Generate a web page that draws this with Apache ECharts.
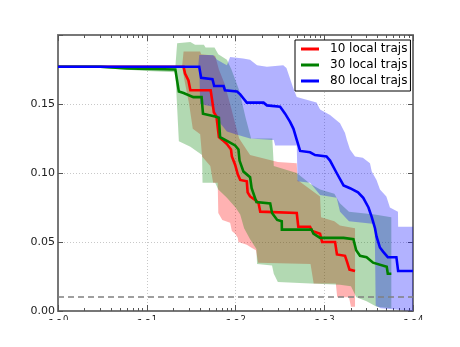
<!DOCTYPE html>
<html><head><meta charset="utf-8">
<script src="https://cdn.jsdelivr.net/npm/echarts@6/dist/echarts.min.js"></script>
<style>html,body{margin:0;padding:0;background:#fff}#c{width:460px;height:347px}</style>
</head><body><div id="c"></div>
<script>
// ---------- data ----------
const seriesNames = ['10 local trajs', '30 local trajs', '80 local trajs'];
const seriesColors = ['#ff0000', '#008000', '#0000ff'];
const bandColors = ['rgba(255,0,0,0.3)', 'rgba(0,128,0,0.3)', 'rgba(0,0,255,0.3)'];

const redMean = [[1,0.177],[26,0.177],[27,0.172],[29.5,0.167],[31,0.160],[52.5,0.160],[54.5,0.153],[57,0.144],[61,0.141],[65,0.126],[71,0.124],[80,0.121],[89,0.117],[91,0.112],[99,0.106],[106,0.099],[113,0.095],[134,0.094],[137,0.086],[146,0.083],[171,0.080],[182,0.078],[190,0.072],[490,0.071],[510,0.061],[692,0.061],[730,0.058],[897,0.056],[945,0.050],[1324,0.050],[1390,0.041],[1714,0.040],[1800,0.036],[1925,0.030],[2222,0.029]];
const greenMean = [[1,0.177],[3,0.177],[6,0.1757],[21,0.175],[23,0.159],[26,0.158],[33.5,0.155],[41.5,0.155],[43,0.143],[59,0.141],[65,0.140],[67,0.126],[87,0.122],[99,0.120],[108,0.117],[111,0.109],[123,0.101],[146,0.097],[152,0.089],[172,0.079],[246,0.078],[258,0.071],[295,0.066],[332,0.065],[333,0.059],[720,0.059],[755,0.056],[897,0.053],[1650,0.053],[2130,0.052],[2290,0.044],[2528,0.040],[3000,0.039],[3550,0.035],[5060,0.032],[5200,0.027],[5700,0.027]];
const blueMean = [[1,0.177],[39,0.177],[41,0.169],[55,0.168],[57.5,0.163],[73.5,0.163],[76,0.160],[104,0.159],[113,0.157],[123,0.154],[134,0.151],[207,0.151],[226,0.149],[318,0.148],[335,0.146],[362,0.143],[412,0.137],[450,0.132],[490,0.124],[535,0.116],[692,0.115],[788,0.113],[1060,0.112],[1162,0.109],[1380,0.100],[1650,0.091],[1951,0.089],[2400,0.086],[2750,0.082],[3150,0.075],[3430,0.068],[3730,0.060],[3880,0.054],[4240,0.046],[4600,0.043],[5200,0.039],[6500,0.039],[6800,0.029],[10000,0.029]];

const redLow = [[1,0.177],[25,0.177],[27,0.165],[30,0.150],[33,0.132],[40,0.128],[42,0.112],[52,0.105],[56,0.093],[63,0.093],[64,0.071],[71,0.066],[87,0.064],[91,0.058],[99,0.056],[106,0.053],[108,0.050],[134,0.048],[150,0.046],[170,0.044],[180,0.035],[700,0.034],[760,0.020],[1350,0.020],[1400,0.010],[1900,0.010],[2000,0.003],[2222,0.003]];
const redHigh = [[1,0.177],[25,0.177],[26,0.188],[40,0.188],[41,0.186],[59,0.185],[65,0.175],[75,0.165],[87,0.150],[100,0.135],[110,0.125],[130,0.118],[146,0.113],[300,0.108],[490,0.107],[500,0.095],[700,0.088],[897,0.083],[920,0.068],[1300,0.065],[1500,0.062],[2222,0.060]];
const greenLow = [[1,0.177],[3,0.176],[10,0.174],[21,0.173],[23,0.123],[31,0.119],[42,0.113],[42.5,0.093],[59,0.093],[64,0.088],[80,0.082],[100,0.075],[113,0.070],[125,0.060],[146,0.052],[172,0.045],[175,0.034],[258,0.033],[270,0.027],[300,0.021],[700,0.020],[1500,0.019],[2000,0.018],[2300,0.010],[3000,0.007],[3900,0.003],[5700,0.002]];
const greenHigh = [[1,0.177],[21,0.177],[22,0.194],[31,0.195],[35,0.193],[44,0.193],[46,0.191],[58,0.191],[64,0.186],[80,0.182],[90,0.175],[110,0.160],[130,0.140],[150,0.125],[260,0.125],[270,0.105],[490,0.100],[700,0.092],[900,0.088],[1300,0.085],[1500,0.078],[1900,0.072],[3700,0.070],[5700,0.068]];
const blueLow = [[1,0.177],[39,0.177],[40,0.150],[56,0.148],[60,0.140],[80,0.130],[100,0.128],[146,0.125],[270,0.124],[280,0.120],[490,0.120],[500,0.094],[692,0.093],[897,0.084],[1380,0.082],[1506,0.072],[1900,0.065],[3700,0.063],[3800,0.004],[4300,0.002],[10000,0.000]];
const blueHigh = [[1,0.177],[38,0.177],[39,0.1855],[56,0.1855],[62,0.182],[80,0.178],[87,0.184],[122,0.183],[146,0.182],[175,0.178],[226,0.177],[345,0.178],[375,0.176],[445,0.162],[490,0.155],[818,0.151],[897,0.146],[1162,0.142],[1506,0.136],[1714,0.129],[1800,0.124],[1951,0.117],[2222,0.112],[2720,0.111],[3275,0.107],[3430,0.101],[3880,0.095],[4244,0.088],[5010,0.083],[5497,0.075],[6770,0.072],[6800,0.061],[10000,0.061]];

const thresholdValue = 0.01;
const xMajorTicks = [1, 10, 100, 1000, 10000];
const xMinorTicks = [2,3,4,5,6,7,8,9,20,30,40,50,60,70,80,90,200,300,400,500,600,700,800,900,2000,3000,4000,5000,6000,7000,8000,9000];
const yTickLabels = ['0.00', '0.05', '0.10', '0.15'];

// ---------- chart ----------
const chart = echarts.init(document.getElementById('c'), null, {renderer: 'canvas'});
const FONT = 'DejaVu Sans';

function band(lo, hi, color) {
  return {
    type: 'custom', silent: true, z: 1, xAxisIndex: 0, yAxisIndex: 0,
    data: [[lo[0][0], lo[0][1]]],
    renderItem: function (params, api) {
      const pts = [];
      hi.forEach(p => pts.push(api.coord(p)));
      for (let i = lo.length - 1; i >= 0; i--) pts.push(api.coord(lo[i]));
      return {type: 'polygon', shape: {points: pts}, style: {fill: color}};
    }
  };
}
function meanLine(name, data, color) {
  return {
    name: name, type: 'line', data: data, showSymbol: false, symbol: 'none',
    z: 5, silent: true, animation: false,
    lineStyle: {color: color, width: 2.6, join: 'miter'}, itemStyle: {color: color}
  };
}

const gridBox = {left: 58, right: 47, top: 35, bottom: 36};
const frameColor = '#777';
function xAxisDef(pos, withLabels, ticks, len, showLine, split) {
  return {
    type: 'log', logBase: 10, min: 1, max: 10000, position: pos,
    axisLine: {show: showLine, onZero: false, lineStyle: {color: frameColor, width: 2}},
    axisTick: {show: true, inside: true, length: len, customValues: ticks, lineStyle: {color: '#555', width: 1}},
    minorTick: {show: false},
    splitLine: {show: split, lineStyle: {color: '#c8c8c8', type: [1, 2], width: 1}},
    axisLabel: withLabels ? {
      show: true, margin: 4, customValues: xMajorTicks,
      formatter: v => '{b|10}{s|' + Math.round(Math.log10(v)) + '}',
      rich: {b: {fontFamily: FONT, fontSize: 12, color: '#222', lineHeight: 16, verticalAlign: 'bottom'},
             s: {fontFamily: FONT, fontSize: 8.5, color: '#222', lineHeight: 16, verticalAlign: 'top'}}
    } : {show: false}
  };
}
function yAxisDef(pos, withLabels) {
  return {
    type: 'value', min: 0, max: 0.2, interval: 0.05, position: pos,
    axisLine: {show: true, onZero: false, lineStyle: {color: frameColor, width: 2}},
    axisTick: {show: true, inside: true, length: 5, lineStyle: {color: '#555', width: 1}},
    splitLine: {show: withLabels, lineStyle: {color: '#c8c8c8', type: [1, 2], width: 1}},
    axisLabel: withLabels ? {
      show: true, margin: 3, fontFamily: FONT, fontSize: 11, color: '#222',
      formatter: (v) => { const i = Math.round(v / 0.05); return i < yTickLabels.length ? yTickLabels[i] : ''; }
    } : {show: false}
  };
}

const option = {
  animation: false,
  backgroundColor: '#fff',
  grid: gridBox,
  xAxis: [
    xAxisDef('bottom', true, xMajorTicks, 6, true, true),
    xAxisDef('top', false, xMajorTicks, 6, true, false),
    xAxisDef('bottom', false, xMinorTicks, 3, false, false),
    xAxisDef('top', false, xMinorTicks, 3, false, false)
  ],
  yAxis: [yAxisDef('left', true), yAxisDef('right', false)],
  legend: {
    orient: 'vertical', left: 295, top: 40,
    data: seriesNames,
    icon: 'rect', itemWidth: 18, itemHeight: 3, itemGap: 4,
    padding: [3, 3, 4, 6],
    borderColor: '#000', borderWidth: 1, backgroundColor: '#fff',
    textStyle: {fontFamily: FONT, fontSize: 12, color: '#000', padding: [0, 0, 0, 6]},
    selectedMode: false
  },
  series: [
    band(redLow, redHigh, bandColors[0]),
    band(greenLow, greenHigh, bandColors[1]),
    band(blueLow, blueHigh, bandColors[2]),
    meanLine(seriesNames[0], redMean, seriesColors[0]),
    meanLine(seriesNames[1], greenMean, seriesColors[1]),
    meanLine(seriesNames[2], blueMean, seriesColors[2]),
    {
      type: 'line', data: [], silent: true,
      markLine: {silent: true, symbol: 'none', label: {show: false},
        lineStyle: {color: '#808080', type: [6, 4], width: 1.5},
        data: [{yAxis: thresholdValue}]}
    }
  ],
  graphic: [{type: 'rect', left: 0, top: 320, shape: {width: 460, height: 27}, style: {fill: '#fff'}, z: 100, silent: true}]
};
chart.setOption(option);
</script></body></html>
